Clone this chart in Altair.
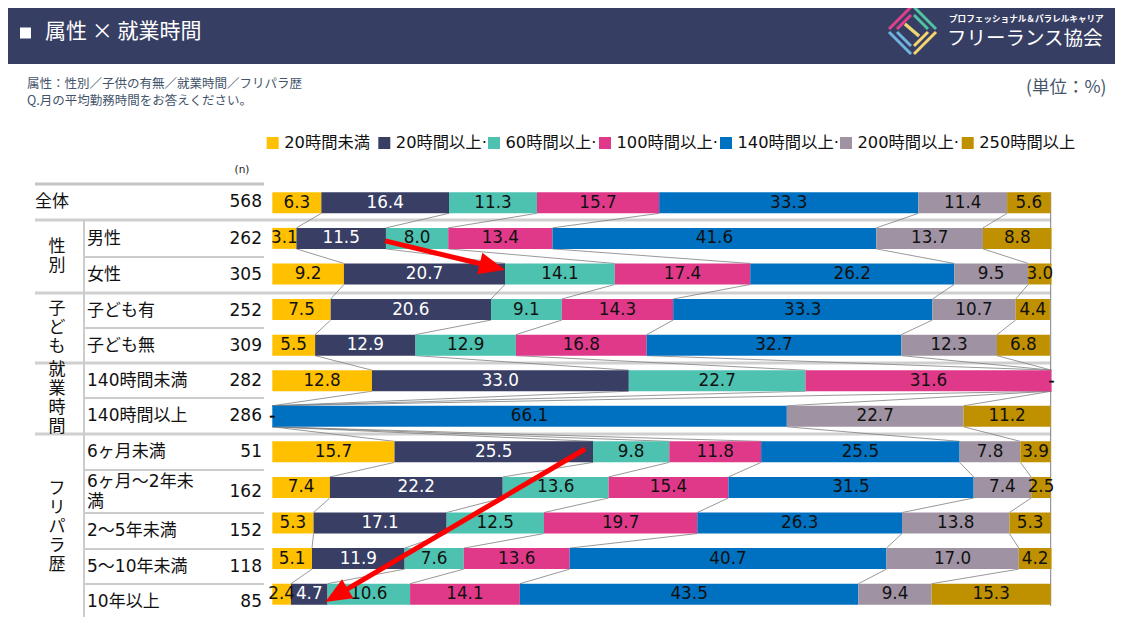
import math
import altair as alt
import numpy as np
import pandas as pd

W, H = 1107, 609
OFF = 8  # page margin: reference pixel -> chart pixel

# ---------------- data ----------------
rows = ["全体", "男性", "女性", "子ども有", "子ども無", "140時間未満", "140時間以上",
        "6ヶ月未満", "6ヶ月～2年未満", "2～5年未満", "5～10年未満", "10年以上"]
n_values = [568, 262, 305, 252, 309, 282, 286, 51, 162, 152, 118, 85]
group_names = ["性別", "子ども", "就業時間", "フリパラ歴"]
group_first = [1, 3, 5, 7]
group_last = [2, 4, 6, 11]

categories = ["20時間未満", "20時間以上·", "60時間以上·", "100時間以上·",
              "140時間以上·", "200時間以上·", "250時間以上"]
colors = ["#FFC000", "#383E64", "#4DC2B0", "#E0398A", "#0070C0", "#9F93A3", "#BF9000"]

s_under20 = [6.3, 3.1, 9.2, 7.5, 5.5, 12.8, 0.0, 15.7, 7.4, 5.3, 5.1, 2.4]
s_20 = [16.4, 11.5, 20.7, 20.6, 12.9, 33.0, 0.0, 25.5, 22.2, 17.1, 11.9, 4.7]
s_60 = [11.3, 8.0, 14.1, 9.1, 12.9, 22.7, 0.0, 9.8, 13.6, 12.5, 7.6, 10.6]
s_100 = [15.7, 13.4, 17.4, 14.3, 16.8, 31.6, 0.0, 11.8, 15.4, 19.7, 13.6, 14.1]
s_140 = [33.3, 41.6, 26.2, 33.3, 32.7, 0.0, 66.1, 25.5, 31.5, 26.3, 40.7, 43.5]
s_200 = [11.4, 13.7, 9.5, 10.7, 12.3, 0.0, 22.7, 7.8, 7.4, 13.8, 17.0, 9.4]
s_250 = [5.6, 8.8, 3.0, 4.4, 6.8, 0.0, 11.2, 3.9, 2.5, 5.3, 4.2, 15.3]
series = [s_under20, s_20, s_60, s_100, s_140, s_200, s_250]

# annotation arrows in data units (percent, row index)
arrow_from = [(14.5, 1.07), (40.2, 6.92)]
arrow_to = [(29.9, 1.88), (6.8, 11.22)]

# ---------------- layout ----------------
HEAD = "#373E63"
SUB = "#44546A"
FONT_MIX = "DejaVu Sans, Noto Sans CJK JP"
FONT_JP = "Noto Sans CJK JP"

X0R, X1R = 272.3 - OFF, 1050.7 - OFF
Y0R, Y1R = 202.8 - OFF, 594.2 - OFF
STEP = (Y1R - Y0R) / 11
HB = 10.5 / STEP

XS = alt.Scale(domain=[0, 100], range=[X0R, X1R], nice=False, zero=False)
YS = alt.Scale(domain=[0, 11], range=[Y0R, Y1R], nice=False, zero=False)
PXS = alt.Scale(domain=[0, W], range=[0, W], nice=False, zero=False)
PYS = alt.Scale(domain=[0, H], range=[0, H], nice=False, zero=False)

table_bounds = [184, 220, 257, 293, 328, 363, 398, 434, 470, 513, 549, 584, 620]
group_bound_idx = [1, 3, 5, 7]
legend_sq_x = [266.7, 378.3, 488, 599, 720, 840, 961.7]
LH_ROW = 20
LH_GRP = 19


def one():
    return pd.DataFrame({"d": [0]})


def xpx(v):
    return X0R + (X1R - X0R) * v / 100.0


def ypx(r):
    return Y0R + (Y1R - Y0R) * r / 11.0


def xinv(p):
    return (p - X0R) * 100.0 / (X1R - X0R)


def yinv(p):
    return (p - Y0R) * 11.0 / (Y1R - Y0R)


layers = []

# header band
layers.append(alt.Chart(one()).mark_rect(color=HEAD).encode(
    x=alt.value(0), x2=alt.value(W), y=alt.value(0), y2=alt.value(56)))
layers.append(alt.Chart(one()).mark_rect(color="white").encode(
    x=alt.value(12), x2=alt.value(23), y=alt.value(19.5), y2=alt.value(30.5)))
layers.append(alt.Chart(one()).mark_text(
    text="属性 × 就業時間", font=FONT_JP, fontSize=21, color="white",
    align="left", baseline="middle").encode(x=alt.value(37), y=alt.value(24)))

# logo (diamond of coloured strokes)
logo = pd.DataFrame({
    "x": [889, 914, 936, 911, 897, 914, 928, 911, 905, 919],
    "y": [29, 7, 32, 54, 29, 15, 32, 46, 24, 36],
    "x2": [911, 936, 914, 889, 911, 928, 914, 897, 919, 905],
    "y2": [7, 29, 54, 32, 15, 29, 46, 32, 36, 24],
    "c": ["#E0408A", "#4FC3A1", "#F5D36E", "#6FB3E0",
          "#E0408A", "#4FC3A1", "#F5D36E", "#6FB3E0", "#4FC3A1", "#F5D36E"],
})
for col in ["x", "x2", "y", "y2"]:
    logo[col] = logo[col] - OFF
layers.append(alt.Chart(logo).mark_rule(strokeWidth=3, strokeCap="butt").encode(
    x=alt.X("x:Q", scale=PXS, axis=None), x2="x2:Q",
    y=alt.Y("y:Q", scale=PYS, axis=None), y2="y2:Q",
    color=alt.Color("c:N", scale=None)))
layers.append(alt.Chart(one()).mark_text(
    text="プロフェッショナル＆パラレルキャリア", font=FONT_JP, fontSize=8.6, fontWeight="bold",
    color="white", align="left", baseline="middle").encode(x=alt.value(941), y=alt.value(11)))
layers.append(alt.Chart(one()).mark_text(
    text="フリーランス協会", font=FONT_JP, fontSize=19.5, color="white",
    align="left", baseline="middle").encode(x=alt.value(939), y=alt.value(31)))

# subtitles
layers.append(alt.Chart(one()).mark_text(
    text="属性：性別／子供の有無／就業時間／フリパラ歴", font=FONT_JP, fontSize=12.5, color=SUB,
    align="left", baseline="middle").encode(x=alt.value(19), y=alt.value(75.5)))
layers.append(alt.Chart(one()).mark_text(
    text="Q.月の平均勤務時間をお答えください。", font=FONT_JP, fontSize=12.5, color=SUB,
    align="left", baseline="middle").encode(x=alt.value(19), y=alt.value(93)))
layers.append(alt.Chart(one()).mark_text(
    text="(単位：%)", font=FONT_JP, fontSize=17.5, color=SUB,
    align="right", baseline="middle").encode(x=alt.value(1098.5), y=alt.value(79.5)))

# legend
leg = pd.DataFrame({
    "cat": categories,
    "x0": [v - OFF for v in legend_sq_x],
    "x1": [v - OFF + 12 for v in legend_sq_x],
    "tx": [v - OFF + 17.5 for v in legend_sq_x],
    "y0": [137 - OFF] * 7, "y1": [149 - OFF] * 7, "ty": [143 - OFF] * 7,
})
cscale = alt.Scale(domain=categories, range=colors)
layers.append(alt.Chart(leg).mark_rect().encode(
    x=alt.X("x0:Q", scale=PXS, axis=None), x2="x1:Q",
    y=alt.Y("y0:Q", scale=PYS, axis=None), y2="y1:Q",
    color=alt.Color("cat:N", scale=cscale, legend=None)))
layers.append(alt.Chart(leg).mark_text(
    font=FONT_MIX, fontSize=16.3, color="#111111", align="left", baseline="middle").encode(
    x=alt.X("tx:Q", scale=PXS, axis=None), y=alt.Y("ty:Q", scale=PYS, axis=None), text="cat:N"))

layers.append(alt.Chart(one()).mark_text(
    text="(n)", font=FONT_MIX, fontSize=10.5, color="#222222",
    align="center", baseline="middle").encode(x=alt.value(234), y=alt.value(162)))

# table lines
hl = []
for bi, yv in enumerate(table_bounds):
    if bi in (0, len(table_bounds) - 1):
        hl.append((35, 264, yv, 3, "#C4C4C4"))
    elif bi in group_bound_idx:
        hl.append((35, 1050.7, yv, 3, "#CFCFCF"))
    else:
        hl.append((84, 264, yv, 2, "#CCCCCC"))
hl_df = pd.DataFrame(hl, columns=["x0", "x1", "y", "w", "c"])
hl_df["x0"] -= OFF
hl_df["x1"] -= OFF
hl_df["y"] -= OFF
layers.append(alt.Chart(hl_df).mark_rule().encode(
    x=alt.X("x0:Q", scale=PXS, axis=None), x2="x1:Q",
    y=alt.Y("y:Q", scale=PYS, axis=None),
    strokeWidth=alt.StrokeWidth("w:Q", scale=None),
    color=alt.Color("c:N", scale=None)))
vl_df = pd.DataFrame({"x": [84 - OFF, 1050.7 - OFF], "y0": [220 - OFF, 192 - OFF],
                      "y1": [620 - OFF, 606 - OFF], "w": [2, 1], "c": ["#CCCCCC", "#808080"]})
layers.append(alt.Chart(vl_df).mark_rule().encode(
    x=alt.X("x:Q", scale=PXS, axis=None),
    y=alt.Y("y0:Q", scale=PYS, axis=None), y2="y1:Q",
    strokeWidth=alt.StrokeWidth("w:Q", scale=None),
    color=alt.Color("c:N", scale=None)))

# table texts
centers = [(table_bounds[i] + table_bounds[i + 1]) / 2 - OFF for i in range(len(rows))]
disp = [r if len(r) <= 7 else r[:7] + "\n" + r[7:] for r in rows]
tab = pd.DataFrame({
    "label": disp,
    "n": [str(v) for v in n_values],
    "ty": centers,
    "ly": [c - (d.count("\n")) * LH_ROW / 2 for c, d in zip(centers, disp)],
    "lx": [35 - OFF] + [87 - OFF] * (len(rows) - 1),
    "nx": [262 - OFF] * len(rows),
})
layers.append(alt.Chart(tab).mark_text(
    font=FONT_MIX, fontSize=17, color="#111111", align="left", baseline="middle",
    lineBreak="\n", lineHeight=LH_ROW).encode(
    x=alt.X("lx:Q", scale=PXS, axis=None), y=alt.Y("ly:Q", scale=PYS, axis=None), text="label:N"))
layers.append(alt.Chart(tab).mark_text(
    font=FONT_MIX, fontSize=17, color="#111111", align="right", baseline="middle").encode(
    x=alt.X("nx:Q", scale=PXS, axis=None), y=alt.Y("ty:Q", scale=PYS, axis=None), text="n:N"))
gcent = [(table_bounds[f] + table_bounds[l + 1]) / 2 - OFF for f, l in zip(group_first, group_last)]
grp = pd.DataFrame({
    "g": ["\n".join(list(g)) for g in group_names],
    "gy": [c - (len(g) - 1) * LH_GRP / 2 for c, g in zip(gcent, group_names)],
    "gx": [57 - OFF] * len(group_names),
})
layers.append(alt.Chart(grp).mark_text(
    font=FONT_MIX, fontSize=17, color="#111111", align="center", baseline="middle",
    lineBreak="\n", lineHeight=LH_GRP).encode(
    x=alt.X("gx:Q", scale=PXS, axis=None), y=alt.Y("gy:Q", scale=PYS, axis=None), text="g:N"))

# bars
M = np.array(series).T  # rows x categories
cum = np.cumsum(M, axis=1)
start = cum - M
bar_recs, lab_recs, con_recs = [], [], []
for i in range(len(rows)):
    for k in range(len(categories)):
        v = float(M[i, k])
        bar_recs.append({"cat": categories[k], "x0": float(start[i, k]), "x1": float(cum[i, k]),
                         "y0": i - HB, "y1": i + HB})
        lab_recs.append({"x": float(start[i, k]) + v / 2, "y": i,
                         "t": f"{v:.1f}" if v > 0 else "-",
                         "tc": "white" if (k == 1 and v > 0) else "#111111"})
for i in range(len(rows) - 1):
    for k in range(len(categories) - 1):
        con_recs.append({"x": float(cum[i, k]), "x2": float(cum[i + 1, k]),
                         "y": i + HB, "y2": i + 1 - HB})
bars = pd.DataFrame(bar_recs)
labs = pd.DataFrame(lab_recs)
cons = pd.DataFrame(con_recs)

layers.append(alt.Chart(cons).mark_rule(color="#7F7F7F", strokeWidth=0.8).encode(
    x=alt.X("x:Q", scale=XS, axis=None), x2="x2:Q",
    y=alt.Y("y:Q", scale=YS, axis=None), y2="y2:Q"))
layers.append(alt.Chart(bars).mark_rect().encode(
    x=alt.X("x0:Q", scale=XS, axis=None), x2="x1:Q",
    y=alt.Y("y0:Q", scale=YS, axis=None), y2="y1:Q",
    color=alt.Color("cat:N", scale=cscale, legend=None)))
layers.append(alt.Chart(labs).mark_text(
    font="DejaVu Sans", fontSize=16.8, align="center", baseline="middle").encode(
    x=alt.X("x:Q", scale=XS, axis=None), y=alt.Y("y:Q", scale=YS, axis=None),
    text="t:N", color=alt.Color("tc:N", scale=None)))

# arrows
ar_line, ar_head = [], []
L = 26.0
for (sx, sy), (tx, ty) in zip(arrow_from, arrow_to):
    S = np.array([xpx(sx), ypx(sy)])
    T = np.array([xpx(tx), ypx(ty)])
    u = (T - S) / np.linalg.norm(T - S)
    E = T - u * (L - 6)
    C = T - u * (L / 2)
    ang = math.degrees(math.atan2(u[0], -u[1])) % 360
    ar_line.append({"x": sx, "y": sy, "x2": xinv(E[0]), "y2": yinv(E[1])})
    ar_head.append({"x": xinv(C[0]), "y": yinv(C[1]), "a": ang})
layers.append(alt.Chart(pd.DataFrame(ar_line)).mark_rule(
    color="#FF0000", strokeWidth=5, strokeCap="butt").encode(
    x=alt.X("x:Q", scale=XS, axis=None), x2="x2:Q",
    y=alt.Y("y:Q", scale=YS, axis=None), y2="y2:Q"))
layers.append(alt.Chart(pd.DataFrame(ar_head)).mark_point(
    shape="M0,-1L0.85,1L-0.85,1Z", filled=True, size=L * L, color="#FF0000", opacity=1,
    strokeWidth=0).encode(
    x=alt.X("x:Q", scale=XS, axis=None), y=alt.Y("y:Q", scale=YS, axis=None),
    angle=alt.Angle("a:Q", scale=None)))

chart = alt.layer(*layers).resolve_scale(
    x="independent", y="independent", color="independent"
).properties(width=W, height=H, padding=0, autosize="none").configure_view(stroke=None)

chart.save("out.html", embed_options={"renderer": "svg", "actions": False})
